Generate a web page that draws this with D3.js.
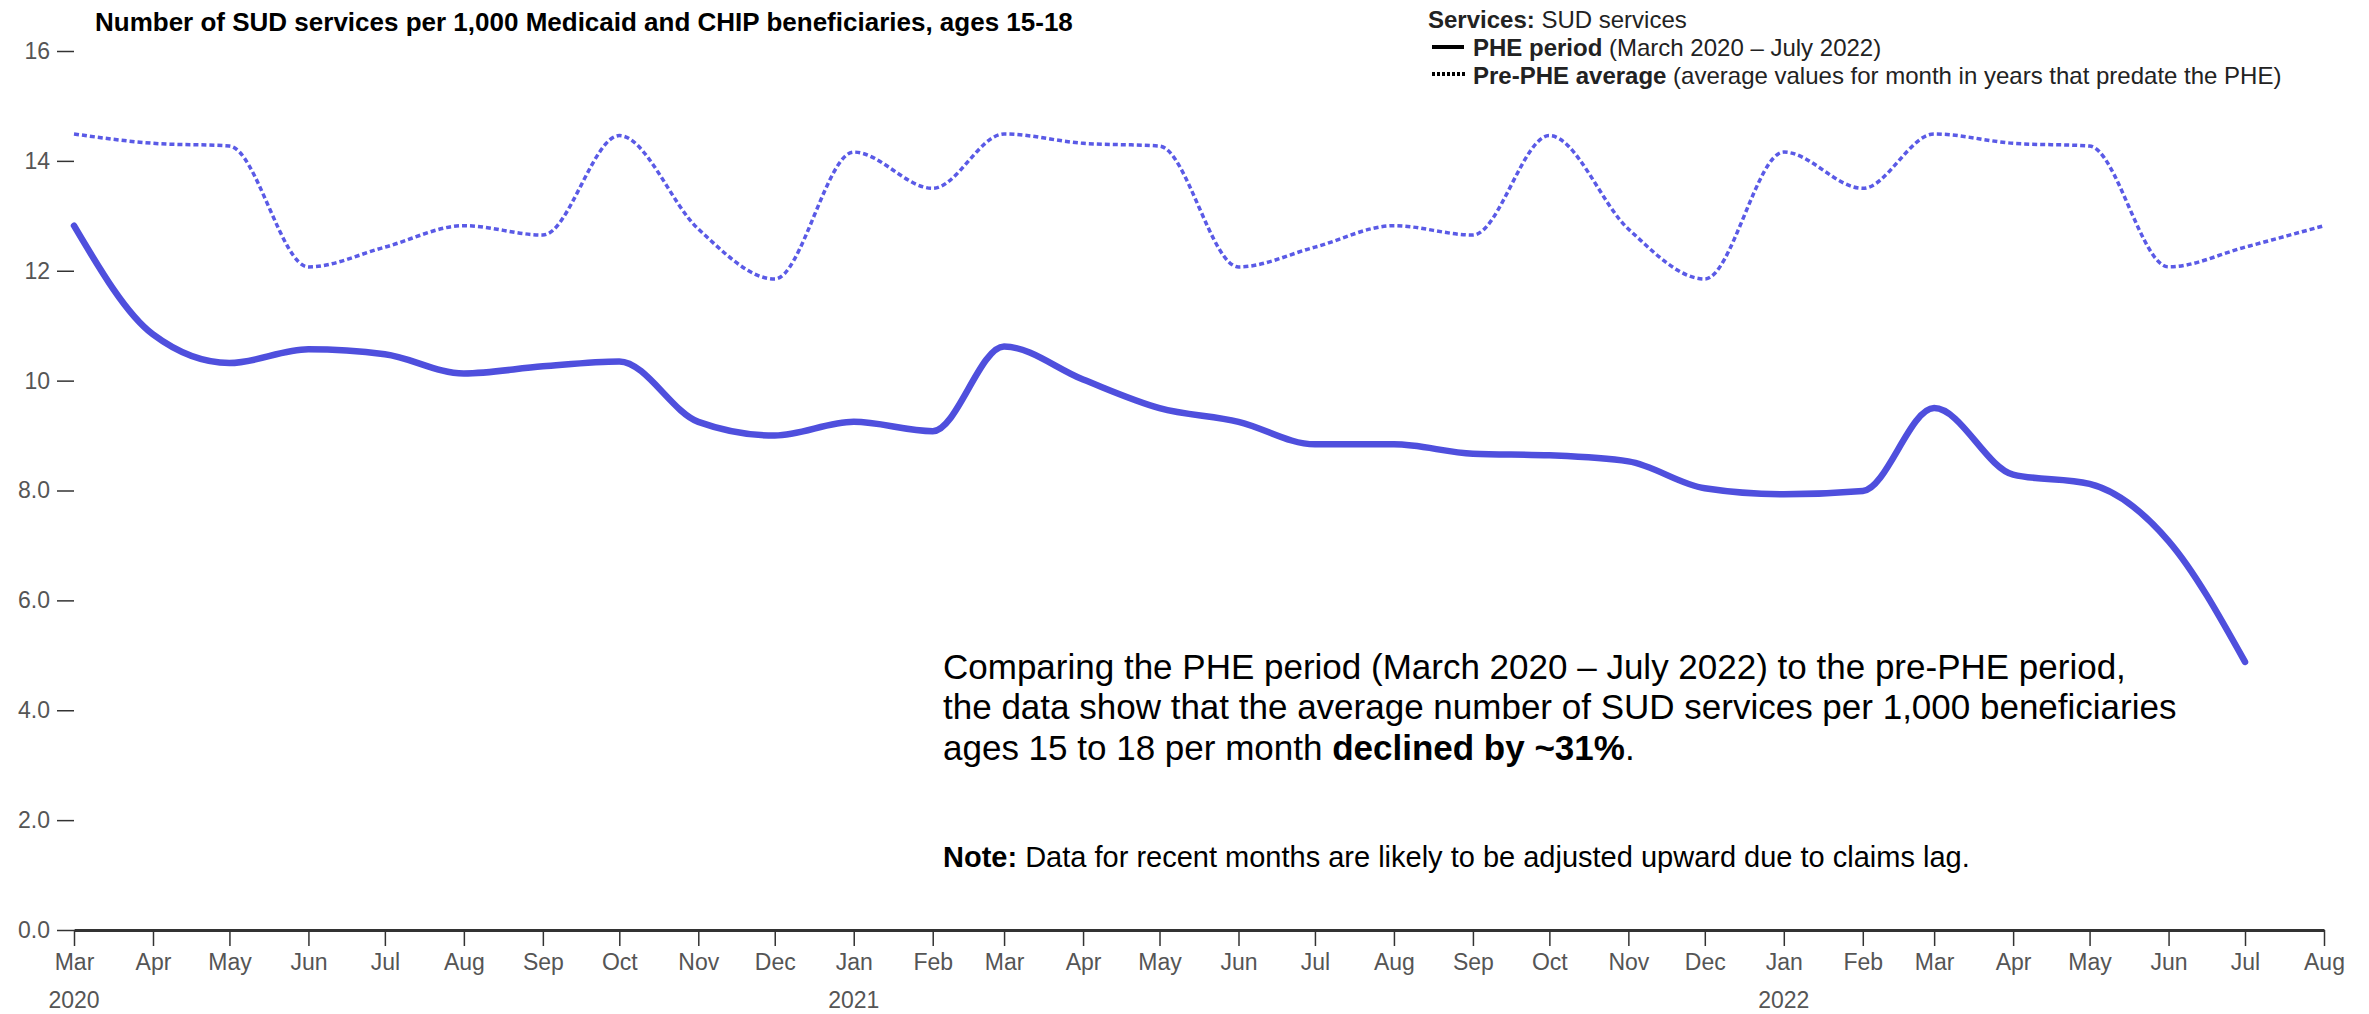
<!doctype html>
<html>

<head>
  <meta charset="utf-8">
  <title>SUD services</title>
  <style>
    body { margin: 0; background: #fff; }
    text { font-family: 'Liberation Sans', Arial, sans-serif; }
  </style>
</head>

<body>
  <svg width="2369" height="1014"></svg>

  <script src="https://d3js.org/d3.v7.min.js"></script>
  <script>
    // months shown on the axis (Mar 2020 - Aug 2022)
    const months = [
      '2020-03', '2020-04', '2020-05', '2020-06', '2020-07', '2020-08', '2020-09', '2020-10', '2020-11', '2020-12',
      '2021-01', '2021-02', '2021-03', '2021-04', '2021-05', '2021-06', '2021-07', '2021-08', '2021-09', '2021-10', '2021-11', '2021-12',
      '2022-01', '2022-02', '2022-03', '2022-04', '2022-05', '2022-06', '2022-07', '2022-08'
    ];

    // PHE period, Mar 2020 - Jul 2022
    const phe = [
      12.82, 10.84, 10.32, 10.57, 10.48, 10.13, 10.26, 10.35, 9.25, 9.0,
      9.25, 9.08, 10.62, 10.02, 9.5, 9.25, 8.84, 8.84, 8.67, 8.64, 8.53, 8.04,
      7.93, 7.99, 9.5, 8.29, 8.12, 7.08, 4.88
    ];

    // pre-PHE average, Mar 2020 - Aug 2022
    const prePhe = [
      14.49, 14.32, 14.27, 12.07, 12.43, 12.82, 12.65, 14.46, 12.76, 11.85,
      14.16, 13.5, 14.49, 14.32, 14.27, 12.07, 12.43, 12.82, 12.65, 14.46, 12.76, 11.85,
      14.16, 13.5, 14.49, 14.32, 14.27, 12.07, 12.43, 12.82
    ];

    const yTicks = [0, 2, 4, 6, 8, 10, 12, 14, 16];
    const yearLabels = [['2020-03', '2020'], ['2021-01', '2021'], ['2022-01', '2022']];

    const svg = d3.select('svg');
    const parseMonth = d3.timeParse('%Y-%m');
    const dates = months.map(parseMonth);

    const x = d3.scaleTime()
      .domain(d3.extent(dates))
      .range([74, 2324]);
    const y = d3.scaleLinear()
      .domain([0, 16])
      .range([930, 51]);

    const line = d3.line()
      .x(d => x(d.date))
      .y(d => y(d.value))
      .curve(d3.curveMonotoneX);

    const pheData = phe.map((v, i) => ({ date: dates[i], value: v }));
    const preData = prePhe.map((v, i) => ({ date: dates[i], value: v }));

    // y axis
    const yAxis = svg.append('g')
      .attr('transform', `translate(${x.range()[0]}, 0)`)
      .call(d3.axisLeft(y).tickValues(yTicks).tickSize(17).tickPadding(7).tickFormat(d3.format('.2r')));
    yAxis.select('.domain').remove();
    yAxis.selectAll('line').attr('stroke', '#333').attr('stroke-width', 1.5);
    yAxis.selectAll('text').attr('fill', '#555').attr('font-size', 23)
      .style('font-family', "'Liberation Sans', Arial, sans-serif");

    // x axis
    const xAxis = svg.append('g')
      .attr('transform', `translate(0, ${y(0)})`)
      .call(d3.axisBottom(x).tickValues(dates).tickSize(16).tickPadding(8)
        .tickFormat(d3.timeFormat('%b')).tickSizeOuter(0));
    xAxis.select('.domain').attr('stroke', '#333').attr('stroke-width', 3);
    xAxis.selectAll('line').attr('stroke', '#333').attr('stroke-width', 1.5);
    xAxis.selectAll('text').attr('fill', '#555').attr('font-size', 23)
      .style('font-family', "'Liberation Sans', Arial, sans-serif");

    // year labels
    svg.append('g').selectAll('text')
      .data(yearLabels)
      .join('text')
      .attr('x', d => x(parseMonth(d[0])))
      .attr('y', 1008)
      .attr('text-anchor', 'middle')
      .attr('fill', '#555')
      .attr('font-size', 23)
      .text(d => d[1]);

    // lines
    svg.append('path')
      .datum(preData)
      .attr('fill', 'none')
      .attr('stroke', '#5a5ae6')
      .attr('stroke-width', 3.5)
      .attr('stroke-dasharray', '5,3')
      .attr('d', line);

    svg.append('path')
      .datum(pheData)
      .attr('fill', 'none')
      .attr('stroke', '#4f4fdd')
      .attr('stroke-width', 6.5)
      .attr('stroke-linejoin', 'round')
      .attr('stroke-linecap', 'round')
      .attr('d', line);

    // title
    svg.append('text')
      .attr('x', 95)
      .attr('y', 31)
      .attr('font-size', 26)
      .attr('font-weight', 'bold')
      .attr('fill', '#000')
      .text('Number of SUD services per 1,000 Medicaid and CHIP beneficiaries, ages 15-18');

    // legend
    const legend = svg.append('g').attr('transform', 'translate(1428, 0)');
    const lt = legend.append('text').attr('x', 0).attr('y', 28).attr('font-size', 24).attr('fill', '#222');
    lt.append('tspan').attr('font-weight', 'bold').text('Services:');
    lt.append('tspan').text(' SUD services');

    legend.append('line')
      .attr('x1', 4).attr('x2', 36).attr('y1', 47).attr('y2', 47)
      .attr('stroke', '#000').attr('stroke-width', 4);
    const l1 = legend.append('text').attr('x', 45).attr('y', 56).attr('font-size', 24).attr('fill', '#222');
    l1.append('tspan').attr('font-weight', 'bold').text('PHE period');
    l1.append('tspan').text(' (March 2020 \u2013 July 2022)');

    legend.append('line')
      .attr('x1', 4).attr('x2', 38).attr('y1', 74).attr('y2', 74)
      .attr('stroke', '#000').attr('stroke-width', 4).attr('stroke-dasharray', '3,2');
    const l2 = legend.append('text').attr('x', 45).attr('y', 84).attr('font-size', 24).attr('fill', '#222');
    l2.append('tspan').attr('font-weight', 'bold').text('Pre-PHE average');
    l2.append('tspan').text(' (average values for month in years that predate the PHE)');

    // annotation
    const note = svg.append('g').attr('transform', 'translate(943, 0)');
    note.append('text').attr('y', 679).attr('font-size', 35).attr('fill', '#000')
      .text('Comparing the PHE period (March 2020 \u2013 July 2022) to the pre-PHE period,');
    note.append('text').attr('y', 719).attr('font-size', 35).attr('fill', '#000')
      .text('the data show that the average number of SUD services per 1,000 beneficiaries');
    const n3 = note.append('text').attr('y', 760).attr('font-size', 35).attr('fill', '#000');
    n3.append('tspan').text('ages 15 to 18 per month ');
    n3.append('tspan').attr('font-weight', 'bold').text('declined by ~31%');
    n3.append('tspan').text('.');

    const n4 = note.append('text').attr('y', 867).attr('font-size', 29).attr('fill', '#000');
    n4.append('tspan').attr('font-weight', 'bold').text('Note:');
    n4.append('tspan').text(' Data for recent months are likely to be adjusted upward due to claims lag.');
  </script>
</body>

</html>
